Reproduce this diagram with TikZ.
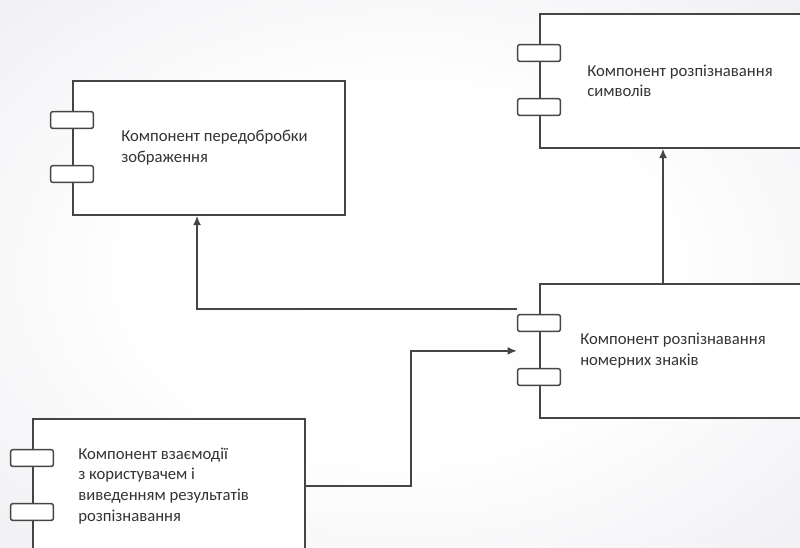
\documentclass[tikz,border=0pt]{standalone}
\usepackage{fontspec}
\setmainfont{Carlito}
\usetikzlibrary{calc,positioning,arrows.meta}
\definecolor{linegray}{HTML}{454545}
\definecolor{textgray}{HTML}{333333}
\definecolor{bgedge}{HTML}{E6E5EB}
\pgfdeclareradialshading{bgglow}{\pgfpoint{0bp}{0bp}}{color(0bp)=(white); color(18bp)=(white!95!bgedge); color(50bp)=(bgedge)}

\begin{document}
\begin{tikzpicture}[x=0.75pt,y=-0.75pt,
  comp/.style={draw=linegray,fill=white,line width=1.3pt,minimum width=204pt,minimum height=100.5pt,inner sep=0pt,anchor=north west},
  port/.style={draw=linegray,fill=white,line width=1.1pt,rounded corners=1.5pt,minimum width=32pt,minimum height=12.5pt,inner sep=0pt},
  comptext/.style={inner sep=0pt,align=left,text=textgray,font=\fontsize{12.5}{15.4}\selectfont},
  conn/.style={draw=linegray,line width=1.3pt,-{Latex[length=7pt,width=6pt]}}]
%
% background, cut to the page
\clip (0,0) rectangle (800,547);
\shade[shading=bgglow] (0,0) rectangle (800,547);
%
%''''''''''''''''''''''''''''components''''''''''''''''''''''''''''''''''''''''''''''''''''''''''
\node[comp] (A) at (72,80) {};
\node[comp] (B) at (539,13) {};
\node[comp] (C) at (539,283) {};
\node[comp] (D) at (32,418) {};
%
% two ports on the left side of each box
\foreach \c in {A,B,C,D}{
  \node[port] (\c p1) at ($(\c.north west)+(0,40)$) {};
  \node[port] (\c p2) at ($(\c.north west)+(0,94)$) {};
}
%
% texts
\node[comptext, right=36.75pt of A.west] (At) {Компонент передобробки\\зображення};
\node[comptext, right=36pt of B.west] (Bt) {Компонент розпізнавання\\символів};
\node[comptext, right=30.75pt of C.west] (Ct) {Компонент розпізнавання\\номерних знаків};
\node[comptext, right=34.5pt of D.west] (Dt) {Компонент взаємодії\\з користувачем і\\виведенням результатів\\розпізнавання};
%
%''''''''''''''''''''''''''''connectors''''''''''''''''''''''''''''''''''''''''''''''''''''''''''
\coordinate (Aup) at ($(A.south west)+(125,0)$);
\coordinate (Cleft) at ($(Cp1.north west)+(0,-5)$);
\coordinate (Ctop) at ($(C.north west)+(124,0)$);
\coordinate (Cin) at (C.west -| Cp1.west);
%
\draw[conn] (Cleft) -| (Aup);
\draw[conn] (Ctop) -- (Ctop |- B.south);
\draw[conn] (D.east) -| ($(D.east)!0.5!(Cin)$) |- (Cin);
%
\end{tikzpicture}
\end{document}
